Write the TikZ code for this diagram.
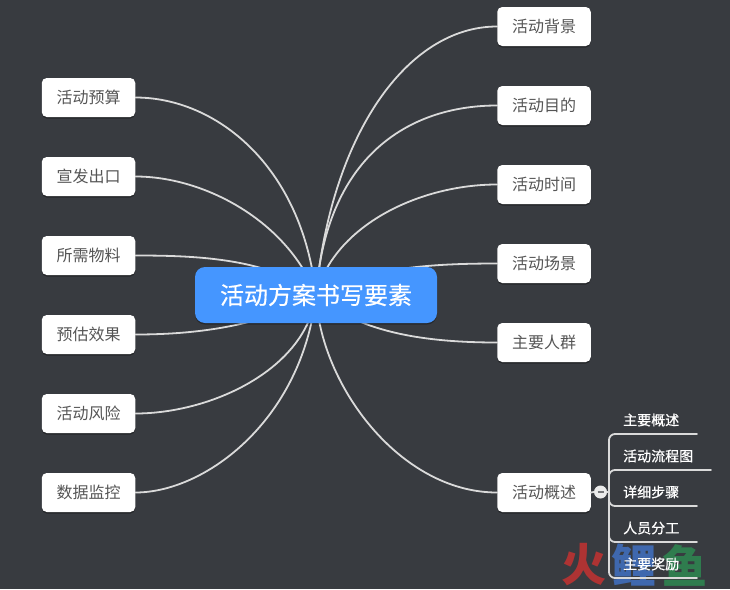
\documentclass[tikz,border=0pt]{standalone}
\usepackage{fontspec}
\setmainfont{Noto Sans CJK SC}
\newfontfamily\subfont[FakeBold=0.6]{Noto Sans CJK SC}
\newfontfamily\mainfnt[FakeBold=0.4]{Noto Sans CJK SC}
\usetikzlibrary{shadows,calc}
\pgfdeclarelayer{back}
\pgfdeclarelayer{links}
\pgfsetlayers{back,links,main}
\definecolor{bgc}{HTML}{383B40}
\definecolor{linec}{HTML}{DADADA}
\definecolor{centerc}{HTML}{4596FF}
\definecolor{txtc}{HTML}{555555}
\definecolor{markr}{HTML}{AE3333}
\definecolor{markb}{HTML}{3F68AE}
\definecolor{markg}{HTML}{2F7C4E}
\tikzset{
  link/.style={draw=linec,line width=1.8pt,line cap=round},
  topicbox/.style={fill=white,rounded corners=5pt,minimum width=93.5pt,minimum height=39pt,inner sep=0pt,
    text=txtc,font=\fontsize{16pt}{18pt}\selectfont,drop shadow={shadow xshift=0pt,shadow yshift=-1.5pt,opacity=.35,fill=black}},
  mainbox/.style={fill=centerc,rounded corners=10pt,minimum width=242pt,minimum height=56pt,inner sep=0pt,
    text=white,font=\fontsize{24pt}{26pt}\mainfnt,drop shadow={shadow xshift=0pt,shadow yshift=-1.5pt,opacity=.3,fill=black}},
  subtext/.style={anchor=west,inner sep=0pt,text=white,font=\fontsize{14pt}{16pt}\subfont},
  marktext/.style={inner sep=0pt,font=\fontsize{45pt}{47pt}\selectfont\bfseries},
}
\begin{document}
\begin{tikzpicture}[x=1pt,y=-1pt]
\begin{pgfonlayer}{back}
\fill[bgc] (0,0) rectangle (730,589);
\end{pgfonlayer}
\useasboundingbox (0,0) rectangle (730,589);
\coordinate (j) at (609,492);
\coordinate (e1) at (697,434);
\coordinate (e2) at (711,470);
\coordinate (e3) at (697,506);
\coordinate (e4) at (697,542);
\coordinate (e5) at (697,578);
\node[mainbox] (c) at (316,295) {活动方案书写要素};
\node[topicbox] (l1) at (88.5,97.5) {活动预算};
\node[topicbox] (l2) at (88.5,176.5) {宣发出口};
\node[topicbox] (l3) at (88.5,255.5) {所需物料};
\node[topicbox] (l4) at (88.5,334.5) {预估效果};
\node[topicbox] (l5) at (88.5,413.5) {活动风险};
\node[topicbox] (l6) at (88.5,492.5) {数据监控};
\node[topicbox] (r1) at (544,26.5) {活动背景};
\node[topicbox] (r2) at (544,105.5) {活动目的};
\node[topicbox] (r3) at (544,184.5) {活动时间};
\node[topicbox] (r4) at (544,263.5) {活动场景};
\node[topicbox] (r5) at (544,342.5) {主要人群};
\node[topicbox] (r6) at (544,492.5) {活动概述};
\begin{pgfonlayer}{links}
\draw[link] (c.center) .. controls +(15,-160) and +(-90,0) .. (r1.west);
\draw[link] (c.center) .. controls +(11,-145) and +(-82,0) .. (r2.west);
\draw[link] (c.center) .. controls +(18,-70) and +(-77,0) .. (r3.west);
\draw[link] (c.center) .. controls +(50,-25) and +(-80,0) .. (r4.west);
\draw[link] (c.center) .. controls +(40,35) and +(-80,0) .. (r5.west);
\draw[link] (c.center) .. controls +(4,90) and +(-97,0) .. (r6.west);
\draw[link] (c.center) .. controls +(-14,-130) and +(80,0) .. (l1.east);
\draw[link] (c.center) .. controls +(-28,-73) and +(70,0) .. (l2.east);
\draw[link] (c.center) .. controls +(-46,-37) and +(60,0) .. (l3.east);
\draw[link] (c.center) .. controls +(-51,30) and +(65,0) .. (l4.east);
\draw[link] (c.center) .. controls +(-10,75) and +(75,0) .. (l5.east);
\draw[link] (c.center) .. controls +(-14,125) and +(70,0) .. (l6.east);
\end{pgfonlayer}
% watermark
\node[marktext,text=markr] (m1) at (584,565) {火};
\node[marktext,text=markb] (m2) at (634,565) {鲤};
\node[marktext,text=markg] (m3) at (685,565) {鱼};
% sub-branch
\node[circle,fill=white!92!black,minimum size=13pt,inner sep=0pt] (dot) at (600.5,492) {};
\draw[bgc!70!white,line width=1.3pt] ($(dot.center)+(-3,0)$) -- ($(dot.center)+(3,0)$);
\draw[link] (r6.east) -- (dot.west);
\draw[link] (dot.east) -- (j);
\foreach \e in {e1,e2,e3,e4,e5}{
  \draw[link,rounded corners=6pt] (j) |- (\e);
}
\node[subtext] (s1) at (623,420) {主要概述};
\node[subtext] (s2) at (623,456) {活动流程图};
\node[subtext] (s3) at (623,492) {详细步骤};
\node[subtext] (s4) at (623,528) {人员分工};
\node[subtext] (s5) at (623,564) {主要奖励};
\end{tikzpicture}
\end{document}
